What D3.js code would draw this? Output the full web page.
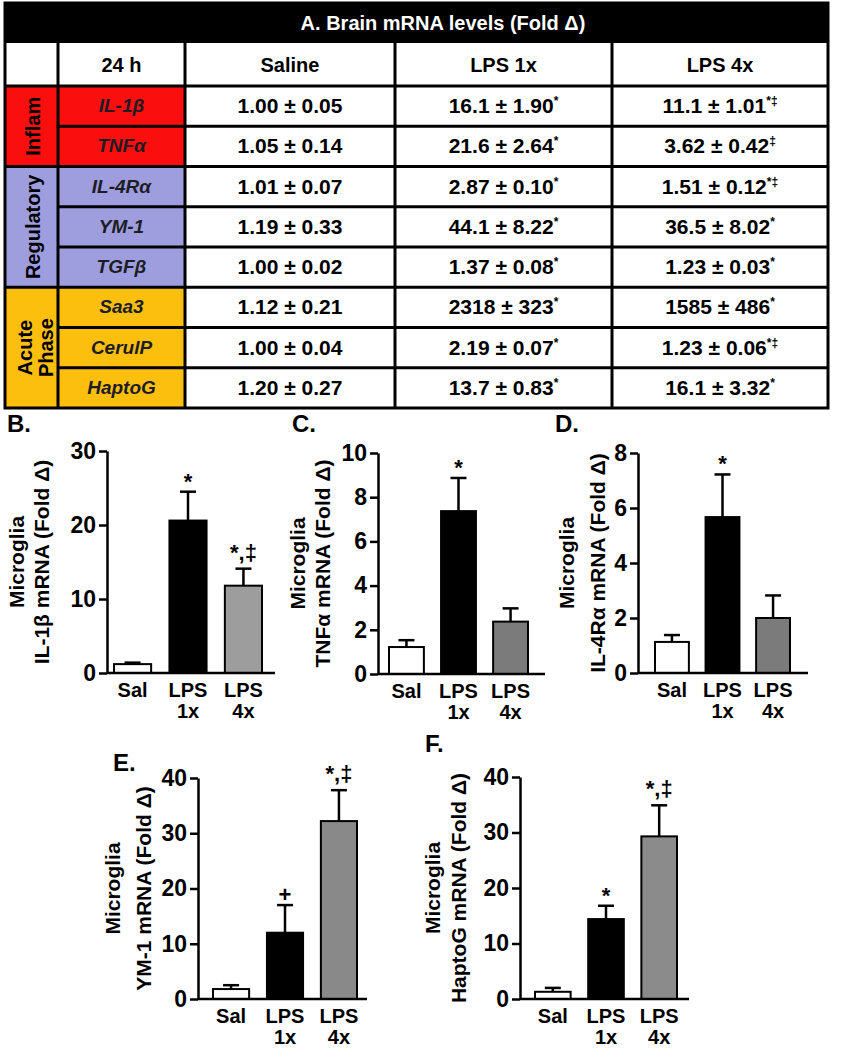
<!DOCTYPE html>
<html lang="en">
<head>
<meta charset="UTF-8">
<title>Brain and microglia mRNA levels</title>
<script src="https://cdn.jsdelivr.net/npm/d3@7"></script>
<style>
  body { margin: 0; background: #fff; }
  svg text { font-family: "Liberation Sans", Arial, sans-serif; font-weight: bold; }
</style>
</head>
<body>
<svg id="fig" width="841" height="1050"></svg>
<script>
// ---- table A data ----
const tableTitle = "A. Brain mRNA levels (Fold Δ)";
const tableHeaders = ["24 h", "Saline", "LPS 1x", "LPS 4x"];
const geneNames = ["IL-1β", "TNFα", "IL-4Rα", "YM-1", "TGFβ", "Saa3", "CerulP", "HaptoG"];
const geneGroups = ["Inflam", "Inflam", "Regulatory", "Regulatory", "Regulatory", "Acute Phase", "Acute Phase", "Acute Phase"];
const salineMean = ["1.00", "1.05", "1.01", "1.19", "1.00", "1.12", "1.00", "1.20"];
const salineSem = ["0.05", "0.14", "0.07", "0.33", "0.02", "0.21", "0.04", "0.27"];
const lps1Mean = ["16.1", "21.6", "2.87", "44.1", "1.37", "2318", "2.19", "13.7"];
const lps1Sem = ["1.90", "2.64", "0.10", "8.22", "0.08", "323", "0.07", "0.83"];
const lps1Mark = ["*", "*", "*", "*", "*", "*", "*", "*"];
const lps4Mean = ["11.1", "3.62", "1.51", "36.5", "1.23", "1585", "1.23", "16.1"];
const lps4Sem = ["1.01", "0.42", "0.12", "8.02", "0.03", "486", "0.06", "3.32"];
const lps4Mark = ["*‡", "‡", "*‡", "*", "*", "*", "*‡", "*"];

// ---- microglia bar data (B-F) ----
const barGroups = ["Sal", "LPS 1x", "LPS 4x"];
const il1bMean = [1.2, 20.6, 11.8], il1bSem = [0.2, 3.9, 2.3], il1bMark = ["", "*", "*,‡"];
const tnfMean = [1.22, 7.37, 2.37], tnfSem = [0.31, 1.5, 0.6], tnfMark = ["", "*", ""];
const il4rMean = [1.13, 5.67, 2.0], il4rSem = [0.25, 1.55, 0.82], il4rMark = ["", "*", ""];
const ym1Mean = [1.8, 12.0, 32.2], ym1Sem = [0.7, 5.0, 5.6], ym1Mark = ["", "+", "*,‡"];
const haptoMean = [1.3, 14.4, 29.3], haptoSem = [0.7, 2.4, 5.6], haptoMark = ["", "*", "*,‡"];

const svg = d3.select("#fig");

// ---------- table ----------
const cols = [5, 58, 185, 395, 612, 828];
const bandTop = 3, headTop = 43, bodyTop = 86, rowH = 40.25;
const rowY = i => bodyTop + i * rowH;
const tableBottom = rowY(geneNames.length);
const groupColor = { "Inflam": "#fb0e0e", "Regulatory": "#9e9edf", "Acute Phase": "#fdbf0e" };

const tbl = svg.append("g");
tbl.append("rect").attr("x", cols[0]).attr("y", bandTop)
  .attr("width", cols[5] - cols[0]).attr("height", headTop - bandTop).attr("fill", "#000");
tbl.append("text").attr("x", (cols[1] + cols[5]) / 2).attr("y", 30)
  .attr("text-anchor", "middle").attr("fill", "#fff").attr("font-size", 20).text(tableTitle);

// header row
tableHeaders.forEach((h, j) => {
  tbl.append("text").attr("x", (cols[j + 1] + cols[j + 2]) / 2).attr("y", 72)
    .attr("text-anchor", "middle").attr("font-size", 20).text(h);
});

// group cells
const spans = d3.groups(geneNames.map((g, i) => ({ g: geneGroups[i], i })), d => d.g)
  .map(([name, rows]) => ({ name, first: rows[0].i, last: rows[rows.length - 1].i }));
spans.forEach(s => {
  const y0 = rowY(s.first), y1 = rowY(s.last + 1);
  tbl.append("rect").attr("x", cols[0]).attr("y", y0).attr("width", cols[2] - cols[0])
    .attr("height", y1 - y0).attr("fill", groupColor[s.name]);
  const cy = (y0 + y1) / 2;
  const words = s.name.split(" ");
  const bx = words.length > 1 ? [32, 53] : [40];
  words.forEach((w, k) => {
    tbl.append("text").attr("transform", `translate(${bx[k]},${cy}) rotate(-90)`)
      .attr("text-anchor", "middle").attr("font-size", 20).text(w);
  });
});

// gene names and values
geneNames.forEach((g, i) => {
  const base = rowY(i) + 27;
  tbl.append("text").attr("x", (cols[1] + cols[2]) / 2).attr("y", base - 1)
    .attr("text-anchor", "middle").attr("font-size", 19).attr("font-style", "italic")
    .attr("fill", "#1c1c24").text(g);
  const cells = [[salineMean[i], salineSem[i], ""], [lps1Mean[i], lps1Sem[i], lps1Mark[i]], [lps4Mean[i], lps4Sem[i], lps4Mark[i]]];
  cells.forEach((c, j) => {
    const t = tbl.append("text").attr("x", (cols[j + 2] + cols[j + 3]) / 2).attr("y", base)
      .attr("text-anchor", "middle").attr("font-size", 21);
    t.append("tspan").text(`${c[0]} ± ${c[1]}`);
    if (c[2]) t.append("tspan").attr("font-size", 12).attr("dy", -8).text(c[2]);
  });
});

// grid lines
const line = (x1, y1, x2, y2) => tbl.append("line").attr("x1", x1).attr("y1", y1).attr("x2", x2).attr("y2", y2)
  .attr("stroke", "#000").attr("stroke-width", 3);
line(cols[0], bodyTop, cols[5], bodyTop);
geneNames.forEach((g, i) => {
  if (i === 0) return;
  const boundary = geneGroups[i] !== geneGroups[i - 1];
  line(boundary ? cols[0] : cols[1], rowY(i), cols[5], rowY(i));
});
cols.slice(1, 5).forEach(x => line(x, headTop, x, tableBottom));
tbl.append("rect").attr("x", cols[0]).attr("y", bandTop).attr("width", cols[5] - cols[0])
  .attr("height", tableBottom - bandTop).attr("fill", "none").attr("stroke", "#000").attr("stroke-width", 3);

// ---------- bar panels ----------
const panels = [
  { letter: "B.", lx: 7, ly: 432, gene: "IL-1β", mean: il1bMean, sem: il1bSem, mark: il1bMark,
    yMax: 30, step: 10, ax: 107, axEnd: 275, barL: 114, barR: 262, base: 673, top: 451, grey: "#9d9d9d", lab: [24, 49] },
  { letter: "C.", lx: 292, ly: 432, gene: "TNFα", mean: tnfMean, sem: tnfSem, mark: tnfMark,
    yMax: 10, step: 2, ax: 378, axEnd: 545, barL: 389, barR: 528, base: 674, top: 453, grey: "#7b7b7b", lab: [305, 330] },
  { letter: "D.", lx: 555, ly: 432, gene: "IL-4Rα", mean: il4rMean, sem: il4rSem, mark: il4rMark,
    yMax: 8, step: 2, ax: 638, axEnd: 808, barL: 655, barR: 790, base: 673, top: 453, grey: "#7b7b7b", lab: [574, 605] },
  { letter: "E.", lx: 113, ly: 771, gene: "YM-1", mean: ym1Mean, sem: ym1Sem, mark: ym1Mark,
    yMax: 40, step: 10, ax: 198, axEnd: 367, barL: 213, barR: 357, base: 999, top: 778, grey: "#898989", lab: [120, 151] },
  { letter: "F.", lx: 425, ly: 752, gene: "HaptoG", mean: haptoMean, sem: haptoSem, mark: haptoMark,
    yMax: 40, step: 10, ax: 520, axEnd: 689, barL: 535, barR: 677, base: 999, top: 777, grey: "#8b8b8b", lab: [440, 466] }
];

panels.forEach(p => {
  const g = svg.append("g");
  const y = d3.scaleLinear().domain([0, p.yMax]).range([p.base, p.top]);
  const x = d3.scaleBand().domain(barGroups).range([p.barL, p.barR]).paddingInner(0.33).paddingOuter(0);
  const fills = ["#fff", "#000", p.grey];
  const rows = barGroups.map((k, i) => ({ k, m: p.mean[i], s: p.sem[i], mk: p.mark[i], fill: fills[i] }));

  // panel letter
  g.append("text").attr("x", p.lx).attr("y", p.ly).attr("font-size", 24).attr("font-weight", "normal").text(p.letter);

  // bars
  g.selectAll("rect.bar").data(rows).join("rect").attr("class", "bar")
    .attr("x", d => x(d.k)).attr("y", d => y(d.m))
    .attr("width", x.bandwidth()).attr("height", d => p.base - y(d.m))
    .attr("fill", d => d.fill).attr("stroke", "#000").attr("stroke-width", 2);

  // error bars (upper only)
  const cx = d => x(d.k) + x.bandwidth() / 2;
  g.selectAll("line.err").data(rows).join("line").attr("class", "err")
    .attr("x1", cx).attr("x2", cx).attr("y1", d => y(d.m)).attr("y2", d => y(d.m + d.s))
    .attr("stroke", "#000").attr("stroke-width", 2.5);
  g.selectAll("line.cap").data(rows).join("line").attr("class", "cap")
    .attr("x1", d => cx(d) - 8).attr("x2", d => cx(d) + 8)
    .attr("y1", d => y(d.m + d.s)).attr("y2", d => y(d.m + d.s))
    .attr("stroke", "#000").attr("stroke-width", 2.5);

  // significance marks
  g.selectAll("text.mark").data(rows.filter(d => d.mk)).join("text").attr("class", "mark")
    .attr("x", cx).attr("y", d => y(d.m + d.s) - (d.mk.includes("‡") ? 9 : 3))
    .attr("text-anchor", "middle").attr("font-size", 22).text(d => d.mk);

  // y axis
  const yAxis = g.append("g").attr("transform", `translate(${p.ax},0)`)
    .call(d3.axisLeft(y).tickValues(d3.range(0, p.yMax + p.step / 2, p.step))
      .tickSize(8).tickSizeOuter(0).tickPadding(3));
  yAxis.selectAll("path, line").attr("stroke", "#000").attr("stroke-width", 2.5);
  yAxis.selectAll("text").attr("font-size", 23).attr("fill", "#000")
    .style("font-family", "'Liberation Sans', Arial, sans-serif").style("font-weight", "bold");

  // x axis baseline and category labels
  g.append("line").attr("x1", p.ax).attr("x2", p.axEnd).attr("y1", p.base).attr("y2", p.base)
    .attr("stroke", "#000").attr("stroke-width", 2.5);
  rows.forEach(d => {
    d.k.split(" ").forEach((w, k) => {
      g.append("text").attr("x", cx(d)).attr("y", p.base + 24 + k * 21)
        .attr("text-anchor", "middle").attr("font-size", 20).text(w);
    });
  });

  // y label, two lines
  const yc = (p.base + p.top) / 2;
  ["Microglia", `${p.gene} mRNA (Fold Δ)`].forEach((t, k) => {
    g.append("text").attr("transform", `translate(${p.lab[k]},${yc}) rotate(-90)`)
      .attr("text-anchor", "middle").attr("font-size", 21).text(t);
  });
});
</script>
</body>
</html>
